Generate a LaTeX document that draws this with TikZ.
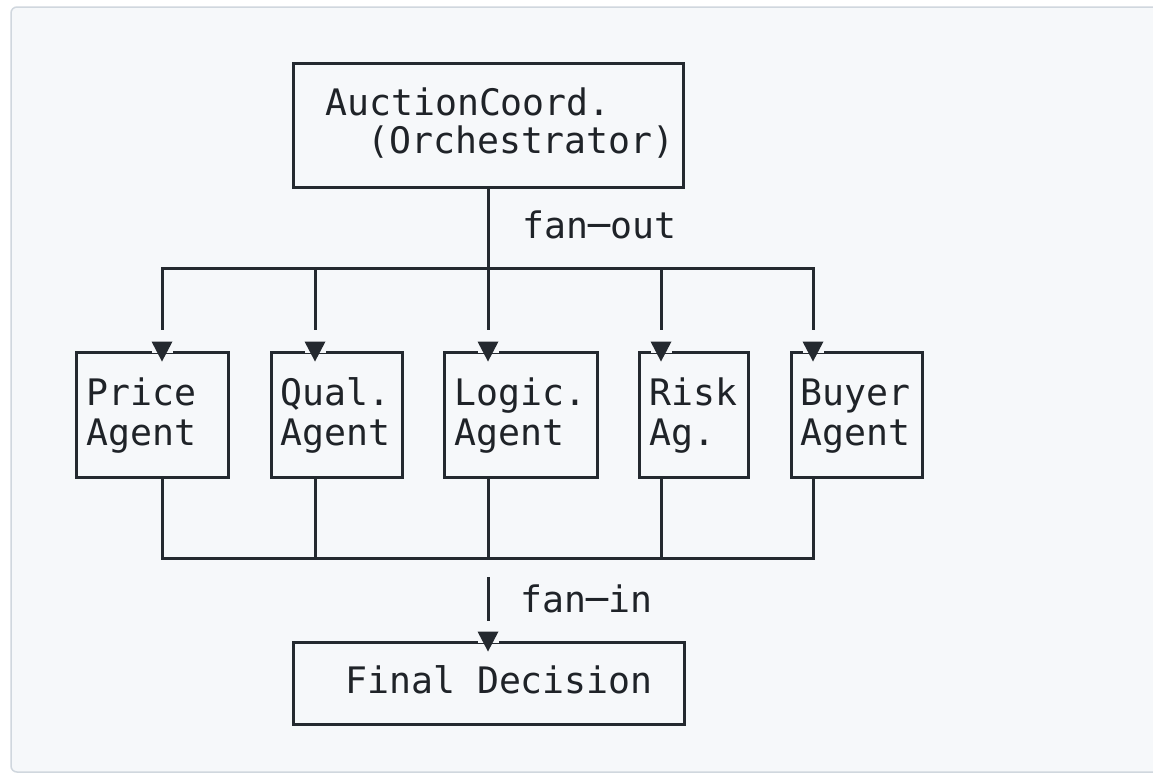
\documentclass[tikz,border=0pt]{standalone}
\usepackage{fontspec}
\setmonofont{DejaVu Sans Mono}
\usetikzlibrary{calc}
\definecolor{ink}{HTML}{24292F}
\definecolor{txtink}{HTML}{1F2328}
\definecolor{cardbg}{HTML}{F6F8FA}
\definecolor{cardline}{HTML}{D0D7DE}
\begin{document}
\begin{tikzpicture}[x=1pt,y=-1pt,
  box/.style={draw=ink, line width=3pt, rectangle, inner sep=0pt},
  wire/.style={draw=ink, line width=3pt},
  lbl/.style={anchor=base west, inner sep=0pt, text=txtink,
              font=\ttfamily\fontsize{36.5}{40}\selectfont},
  tipfill/.style={fill=ink},
  gapfill/.style={fill=cardbg}]
  % page and card
  \useasboundingbox (0,0) rectangle (1153,774);
  \fill[white] (0,0) rectangle (1153,774);
  \draw[fill=cardbg, draw=cardline, line width=1.5pt, rounded corners=6pt]
    (11,7) rectangle (1180,772);

  % boxes
  \node[box, minimum width=390pt, minimum height=124pt] (coord) at (488,125) {};
  \node[box, minimum width=152pt, minimum height=125pt] (price) at (152,414.5) {};
  \node[box, minimum width=131pt, minimum height=125pt] (qual)  at (336.5,414.5) {};
  \node[box, minimum width=153pt, minimum height=125pt] (logic) at (520.5,414.5) {};
  \node[box, minimum width=109pt, minimum height=125pt] (risk)  at (693.5,414.5) {};
  \node[box, minimum width=131pt, minimum height=125pt] (buyer) at (856.5,414.5) {};
  \node[box, minimum width=391pt, minimum height=82pt]  (final) at (488.5,683) {};

  % labels
  \node[lbl] (coordA) at (325,115) {AuctionCoord.};
  \node[lbl] (coordB) at (367,153) {(Orchestrator)};
  \node[lbl] (priceA) at (86,405) {Price};
  \node[lbl] (priceB) at (86,445) {Agent};
  \node[lbl] (qualA)  at (280,405) {Qual.};
  \node[lbl] (qualB)  at (280,445) {Agent};
  \node[lbl] (logicA) at (454,405) {Logic.};
  \node[lbl] (logicB) at (454,445) {Agent};
  \node[lbl] (riskA)  at (649,405) {Risk};
  \node[lbl] (riskB)  at (649,445) {Ag.};
  \node[lbl] (buyerA) at (800,405) {Buyer};
  \node[lbl] (buyerB) at (800,445) {Agent};
  \node[lbl] (fout)   at (522,238) {fan─out};
  \node[lbl] (fin)    at (520,612) {fan─in};
  \node[lbl] (finalA) at (345,693) {Final Decision};

  % bus points
  \coordinate (b1) at (162,268);
  \coordinate (b2) at (315,268);
  \coordinate (b3) at (488,268);
  \coordinate (b4) at (661,268);
  \coordinate (b5) at (813,268);
  \coordinate (c1) at (162,558);
  \coordinate (c2) at (315,558);
  \coordinate (c3) at (488,558);
  \coordinate (c4) at (661,558);
  \coordinate (c5) at (813,558);

  % fan-out wiring
  \draw[wire] ($(b1|-price.north)+(0,-21)$) -- (b1) -- (b5) -- ($(b5|-buyer.north)+(0,-21)$);
  \draw[wire] (b2) -- ($(b2|-qual.north)+(0,-21)$);
  \draw[wire] (coord.south) -- ($(b3|-logic.north)+(0,-21)$);
  \draw[wire] (b4) -- ($(b4|-risk.north)+(0,-21)$);

  % fan-in wiring
  \draw[wire] (b1|-price.south) -- (c1) -- (c5) -- (b5|-buyer.south);
  \draw[wire] (b2|-qual.south) -- (c2);
  \draw[wire] (b3|-logic.south) -- (c3);
  \draw[wire] (b4|-risk.south) -- (c4);
  \draw[wire] ($(c3)+(0,19)$) -- ($(c3|-final.north)+(0,-20)$);

  % arrow heads breaking the box tops
  \foreach \b/\n in {b1/price, b2/qual, b3/logic, b4/risk, b5/buyer, c3/final}{
    \fill[gapfill] ($(\b|-\n.north)+(-10.5,-2.4)$) rectangle ++(21,4.8);
    \fill[tipfill] ($(\b|-\n.north)+(-10.5,-9)$) -- ++(21,0)
      -- ($(\b|-\n.north)+(0,11)$) -- cycle;
  }
\end{tikzpicture}
\end{document}
